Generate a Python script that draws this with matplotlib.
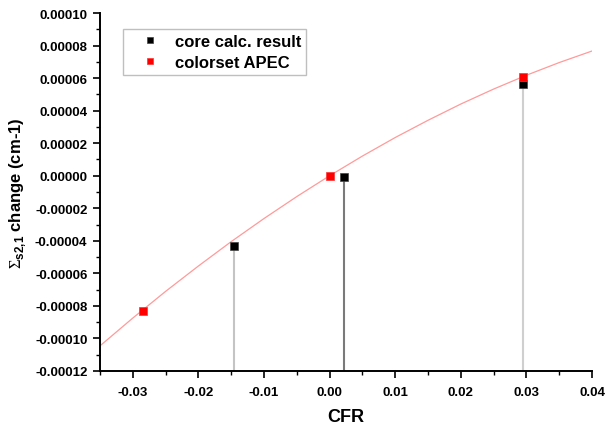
import matplotlib
matplotlib.use("Agg")
import matplotlib.pyplot as plt
from matplotlib.ticker import MultipleLocator, FormatStrFormatter

plt.rcParams['font.family'] = ['Liberation Sans', 'DejaVu Sans']
plt.rcParams['mathtext.fontset'] = 'custom'
plt.rcParams['mathtext.rm'] = 'Liberation Serif'
plt.rcParams['mathtext.bf'] = 'Liberation Sans:bold'

# core calculation results (black squares)
core_x = [-0.0146, 0.0022, 0.0295]
core_y = [-0.0000434, -0.0000005, 0.0000565]

# colorset APEC (red squares)
apec_x = [-0.0285, 0.0, 0.0295]
apec_y = [-0.0000834, 0.0, 0.0000610]

# red trend curve
curve_x = [-0.035, -0.030, -0.025, -0.020, -0.015, -0.010, -0.005, 0.0,
           0.005, 0.010, 0.015, 0.020, 0.025, 0.030, 0.035, 0.040]
curve_y = [-0.0001046, -0.0000875, -0.0000711, -0.0000555, -0.0000405,
           -0.0000263, -0.0000128, 0.0, 0.0000121, 0.0000235, 0.0000341,
           0.0000441, 0.0000533, 0.0000618, 0.0000696, 0.0000767]

drop_colors = ['#c4c4c4', '#7a7a7a', '#cfcfcf']

fig = plt.figure(figsize=(6.06, 4.27), dpi=100)
ax = fig.add_axes([0.165, 0.129, 0.812, 0.838])

ax.plot(curve_x, curve_y, color='#ff9a9a', lw=0.9, zorder=2)

ymin = -0.00012
for x, y, c in zip(core_x, core_y, drop_colors):
    ax.plot([x, x], [ymin, y], color=c, lw=1.5, zorder=1)

ax.plot(core_x, core_y, 's', color='black', mec='#444444', mew=0.5, ms=5.5,
        ls='none', label='core calc. result', zorder=3)
ax.plot(apec_x, apec_y, 's', color='red', mec='#ff3030', mew=0.5, ms=5.5,
        ls='none', label='colorset APEC', zorder=3)

ax.set_xlim(-0.035, 0.04)
ax.set_ylim(-0.00012, 0.0001)

ax.xaxis.set_major_locator(MultipleLocator(0.01))
ax.xaxis.set_minor_locator(MultipleLocator(0.005))
ax.yaxis.set_major_locator(MultipleLocator(0.00002))
ax.yaxis.set_minor_locator(MultipleLocator(0.00001))
ax.xaxis.set_major_formatter(FormatStrFormatter('%.2f'))
ax.yaxis.set_major_formatter(FormatStrFormatter('%.5f'))

for s in ['top', 'right']:
    ax.spines[s].set_visible(False)
for s in ['left', 'bottom']:
    ax.spines[s].set_linewidth(1.4)

ax.tick_params(which='major', direction='out', length=5, width=1.2,
               labelsize=9.5)
ax.tick_params(which='minor', direction='out', length=3, width=1.0)
for lab in ax.get_xticklabels() + ax.get_yticklabels():
    lab.set_fontweight('bold')
ax.tick_params(axis='x', pad=6)
ax.tick_params(axis='y', pad=4)

ax.set_xlabel('CFR', fontsize=13, fontweight='bold', labelpad=7)
ax.set_ylabel(r'$\mathrm{\Sigma}_{\mathbf{s2{,}1}}$ change (cm-1)', fontsize=12,
              fontweight='bold', labelpad=5)

leg = ax.legend(loc='upper left', bbox_to_anchor=(0.047, 0.955),
                borderaxespad=0, frameon=True, fancybox=False,
                edgecolor='#b0b0b0', handlelength=2.6, handletextpad=0.2,
                borderpad=0.3, labelspacing=0.35, markerscale=0.9,
                prop={'weight': 'bold', 'size': 12})
leg.get_frame().set_linewidth(1.0)

fig.savefig('out.png', dpi=100)
